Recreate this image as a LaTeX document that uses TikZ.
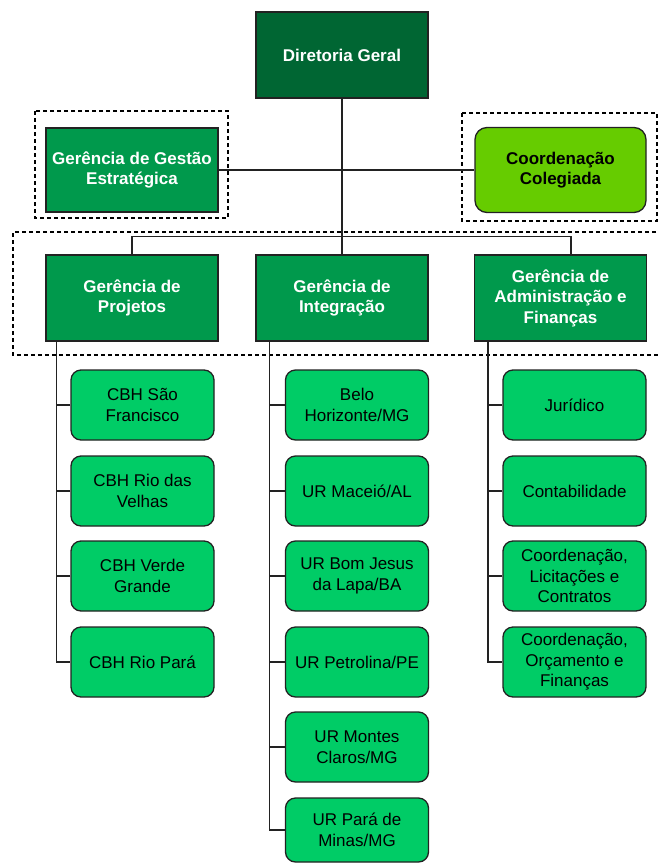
\documentclass[tikz,border=0pt]{standalone}
\usepackage{fontspec}
\setmainfont{Liberation Sans}
\definecolor{dgreen}{HTML}{006633}
\definecolor{mgreen}{HTML}{00994C}
\definecolor{lime}{HTML}{66CC00}
\definecolor{bgreen}{HTML}{00CC66}
\definecolor{edge}{HTML}{222222}
\begin{document}
\begin{tikzpicture}[x=1pt,y=-1pt,
  base/.style={draw=edge,line width=1.3pt,align=center,inner sep=2pt,
    font=\fontsize{17}{20.5}\selectfont},
  head/.style={base,fill=mgreen,text=white,font=\bfseries\fontsize{17}{20.5}\selectfont,
    minimum width=172pt,minimum height=86pt},
  unit/.style={base,fill=bgreen,rounded corners=10pt,minimum width=143pt,minimum height=70pt},
  link/.style={draw=edge,line width=1.3pt},
  group/.style={draw=black,line width=1.1pt,dash pattern=on 4pt off 3pt}]
\useasboundingbox (0,0) rectangle (659,863);

% dashed group frames
\draw[group] (35,111) rectangle (228,218);
\draw[group] (462,113) rectangle (657,221);
\draw[group] (670,232) -- (13,232) -- (13,355) -- (670,355);

% top level
\node[head,fill=dgreen] (dg) at (342,55) {Diretoria Geral};
\node[head,minimum height=84pt] (gge) at (132,170) {Gerência de Gestão\\Estratégica};
\node[head,fill=lime,text=black,rounded corners=12pt,minimum width=171pt,minimum height=85pt] (cc) at (560.5,170) {Coordenação\\Colegiada};

% managers
\node[head] (gp) at (132,298) {Gerência de\\Projetos};
\node[head] (gi) at (342,298) {Gerência de\\Integração};
\node[head] (gaf) at (560.5,298) {Gerência de\\Administração e\\Finanças};

% units - Projetos
\node[unit] (p1) at (142.5,405) {CBH São\\Francisco};
\node[unit] (p2) at (142.5,491) {CBH Rio das\\Velhas};
\node[unit] (p3) at (142.5,576) {CBH Verde\\Grande};
\node[unit] (p4) at (142.5,662) {CBH Rio Pará};

% units - Integração
\node[unit] (i1) at (357,405) {Belo\\Horizonte/MG};
\node[unit] (i2) at (357,491) {UR Maceió/AL};
\node[unit] (i3) at (357,576) {UR Bom Jesus\\da Lapa/BA};
\node[unit] (i4) at (357,662) {UR Petrolina/PE};
\node[unit] (i5) at (357,747) {UR Montes\\Claros/MG};
\node[unit,minimum height=64pt] (i6) at (357,830) {UR Pará de\\Minas/MG};

% units - Administração e Finanças
\node[unit] (a1) at (574.5,405) {Jurídico};
\node[unit] (a2) at (574.5,491) {Contabilidade};
\node[unit] (a3) at (574.5,576) {Coordenação,\\Licitações e\\Contratos};
\node[unit] (a4) at (574.5,662) {Coordenação,\\Orçamento e\\Finanças};

% connectors
\draw[link] (gge.east) -- (cc.west);
\draw[link] (dg.south) -- (gi.north);
\draw[link] (gp.north) -- ++(0,-18) -| ([xshift=10.5pt]gaf.north);

\draw[link] ([xshift=11pt]gp.south west) |- (p4.west);
\foreach \n in {p1,p2,p3} \draw[link] (\n.west) -- ++(-14,0);
\draw[link] ([xshift=14pt]gi.south west) |- (i6.west);
\foreach \n in {i1,i2,i3,i4,i5} \draw[link] (\n.west) -- ++(-15.5,0);
\draw[link] ([xshift=14pt]gaf.south west) |- (a4.west);
\foreach \n in {a1,a2,a3} \draw[link] (\n.west) -- ++(-14,0);
\end{tikzpicture}
\end{document}
